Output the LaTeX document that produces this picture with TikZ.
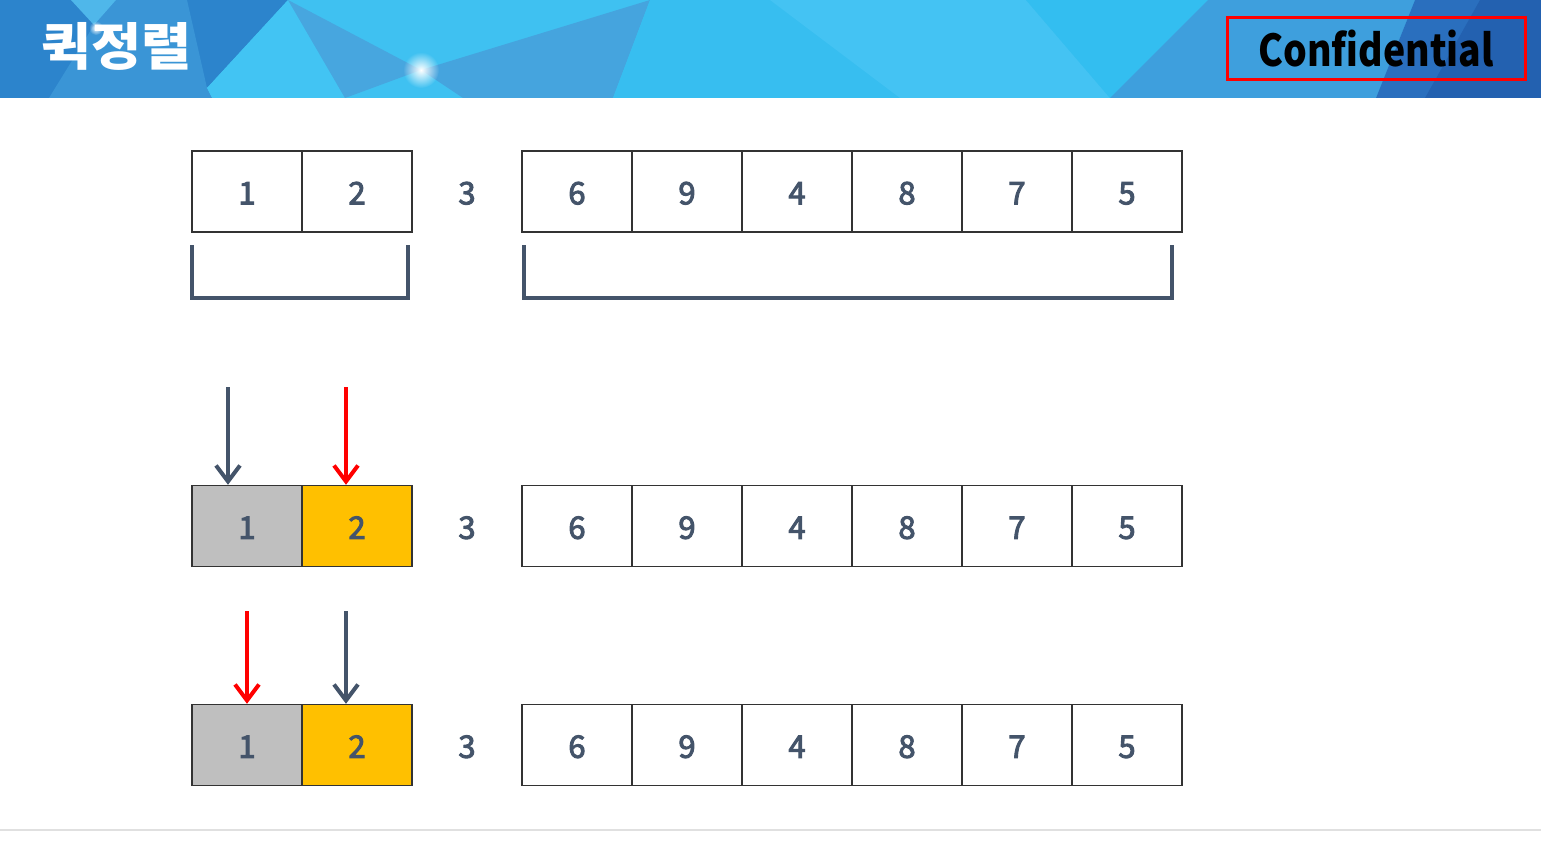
\documentclass[tikz,border=0pt]{standalone}
\usepackage{fontspec}
\setmainfont{Noto Sans CJK KR}
\newfontfamily\kr{Noto Sans CJK KR}
\newfontfamily\numfont[FakeBold=3]{Noto Sans CJK KR}
\usetikzlibrary{arrows.meta,fadings}
\definecolor{slate}{HTML}{44546A}
\definecolor{goldc}{HTML}{FFC000}
\definecolor{grayc}{HTML}{BFBFBF}
\definecolor{hbase}{HTML}{3FC1F1}
\definecolor{hA}{HTML}{2C84CC}
\definecolor{hB}{HTML}{3A95D6}
\definecolor{hC}{HTML}{4FB7EA}
\definecolor{hD}{HTML}{42C4F3}
\definecolor{hE}{HTML}{47A6DF}
\definecolor{hF}{HTML}{45A4DE}
\definecolor{hG}{HTML}{37BEF0}
\definecolor{hH}{HTML}{44C3F3}
\definecolor{hI}{HTML}{33BEF0}
\definecolor{hJ}{HTML}{3E9FDD}
\definecolor{hK}{HTML}{2A6FBE}
\definecolor{hL}{HTML}{2361B0}
\definecolor{rulec}{HTML}{E0E0E0}
\tikzfading[name=glowfade, inner color=transparent!0, outer color=transparent!100]
\tikzset{
  cell/.style={draw=black!80, line width=1.4pt, fill=white, minimum width=110pt, minimum height=81pt, inner sep=0pt, text=slate, text height=25.6pt, text depth=0pt, font=\numfont\fontsize{31}{31}\selectfont},
  plain/.style={text=slate, font=\numfont\fontsize{31}{31}\selectfont, inner sep=0pt, text height=25.6pt, text depth=0pt},
  bracket/.style={draw=slate, line width=4pt},
  arr/.style={line width=4pt, -{Straight Barb[length=16pt,width=24pt]}},
}
\begin{document}
\begin{tikzpicture}[x=1pt,y=-1pt]
\useasboundingbox (0,0) rectangle (1541,864);
\fill[white] (0,0) rectangle (1541,864);
% header background
\fill[hbase] (0,0) rectangle (1541,98);
\fill[hA] (0,0) -- (288,0) -- (207,88) -- (212,98) -- (0,98) -- cycle;
\fill[hB] (116,0) -- (187,0) -- (207,88) -- (212,98) -- (49,98) -- (94,25) -- cycle;
\fill[hC] (71,0) -- (116,0) -- (94,25) -- cycle;
\fill[hD] (288,0) -- (345,98) -- (212,98) -- (207,88) -- cycle;
\fill[hE] (288,0) -- (421,70) -- (345,98) -- cycle;
\fill[hF] (421,70) -- (650,0) -- (613,98) -- (463,98) -- cycle;
\fill[hG] (650,0) -- (1026,0) -- (1110,98) -- (613,98) -- cycle;
\fill[hH] (770,0) -- (1026,0) -- (1110,98) -- (900,98) -- cycle;
\fill[hI] (1026,0) -- (1208,0) -- (1110,98) -- cycle;
\fill[hJ] (1208,0) -- (1415,0) -- (1376,98) -- (1110,98) -- cycle;
\fill[hK] (1415,0) -- (1541,0) -- (1541,98) -- (1376,98) -- cycle;
\fill[hL] (1480,0) -- (1541,0) -- (1541,98) -- (1425,98) -- cycle;
\fill[white, path fading=glowfade] (421,70) circle (18pt);
\fill[white, path fading=glowfade] (96,28) circle (7pt);
% title
\node[anchor=west, text=white, font=\kr\bfseries\fontsize{51}{51}\selectfont, inner sep=0pt] (title) at (41,46) {\scalebox{1.07}[1]{퀵정렬}};
\node[draw=red, line width=3pt, minimum width=298pt, minimum height=62pt, inner sep=0pt, font=\kr\bfseries\fontsize{44}{44}\selectfont] (conf) at (1376,49) {\scalebox{0.85}[1]{Confidential}};
% rows
\foreach \r/\y in {1/191.5, 2/526, 3/745} {
  \node[cell] (r\r a) at (247,\y) {1};
  \node[cell] (r\r b) at (357,\y) {2};
  \node[plain] (r\r p) at (467,\y) {3};
  \node[cell] (r\r c) at (577,\y) {6};
  \node[cell] (r\r d) at (687,\y) {9};
  \node[cell] (r\r e) at (797,\y) {4};
  \node[cell] (r\r f) at (907,\y) {8};
  \node[cell] (r\r g) at (1017,\y) {7};
  \node[cell] (r\r h) at (1127,\y) {5};
}
\node[cell, fill=grayc] at (r2a) {1};
\node[cell, fill=goldc] at (r2b) {2};
\node[cell, fill=grayc] at (r3a) {1};
\node[cell, fill=goldc] at (r3b) {2};
% brackets
\draw[bracket] (192,245) -- (192,298) -- (408,298) -- (408,245);
\draw[bracket] (524,245) -- (524,298) -- (1172,298) -- (1172,245);
% arrows
\coordinate (p1) at (228,387);
\coordinate (p2) at (346,387);
\coordinate (p3) at (247,611);
\coordinate (p4) at (346,611);
\draw[arr, slate] (p1) -- (p1 |- r2a.north);
\draw[arr, red] (p2) -- (p2 |- r2b.north);
\draw[arr, red] (p3) -- (p3 |- r3a.north);
\draw[arr, slate] (p4) -- (p4 |- r3b.north);
% bottom rule
\draw[rulec, line width=2pt] (0,830) -- (1541,830);
\end{tikzpicture}
\end{document}
